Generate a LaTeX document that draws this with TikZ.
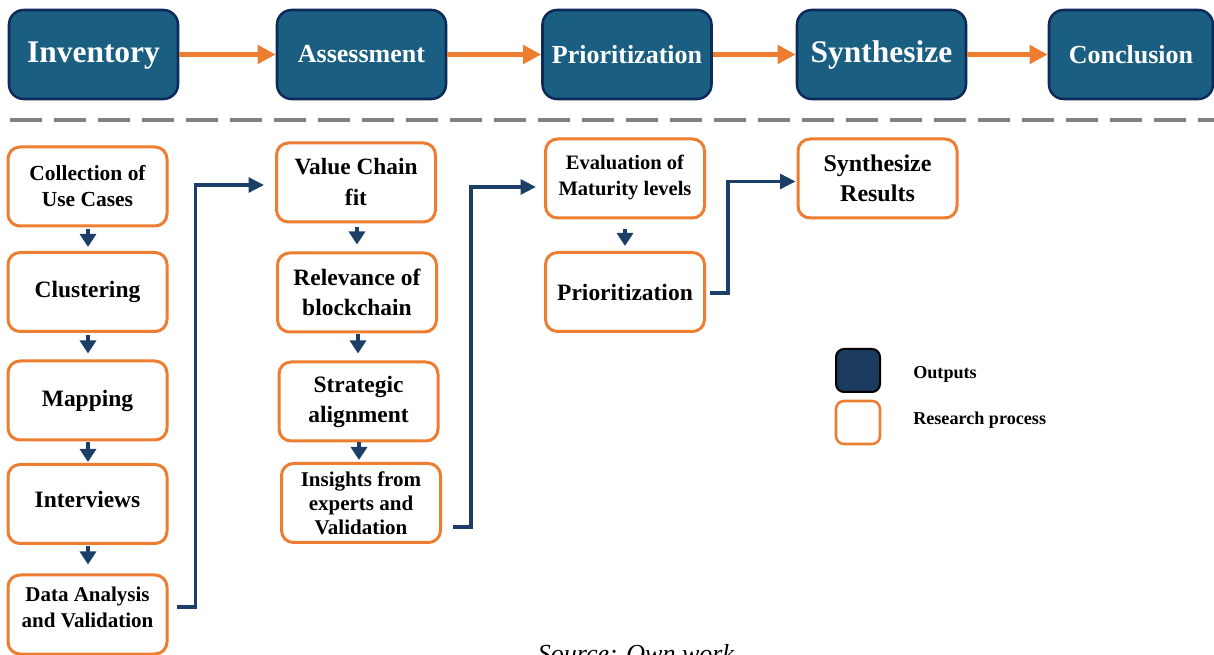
\documentclass[tikz,border=0pt]{standalone}
\usepackage{fontspec}
\setmainfont{Liberation Serif}
\usetikzlibrary{arrows.meta,calc}

\definecolor{stagefill}{HTML}{1A5F82}
\definecolor{stageedge}{HTML}{0E2A5A}
\definecolor{accent}{HTML}{ED7D31}
\definecolor{navyline}{HTML}{1B3F66}
\definecolor{legendnavy}{HTML}{1A3A5E}
\definecolor{divider}{HTML}{7F7F7F}

\begin{document}
\begin{tikzpicture}[x=0.75pt,y=-0.75pt,
  stage/.style={draw=stageedge, line width=1.9pt, fill=stagefill, rounded corners=11pt,
    minimum width=126.75pt, minimum height=66.75pt, inner sep=0pt, text=white,
    font=\bfseries\fontsize{19.5}{23}\selectfont},
  stagebig/.style={stage, font=\bfseries\fontsize{23.6}{28}\selectfont},
  proc/.style={draw=accent, line width=2.25pt, fill=white, rounded corners=9pt,
    minimum width=119.25pt, minimum height=59.25pt, inner sep=0pt, align=center,
    font=\bfseries\fontsize{17.6}{22.5}\selectfont},
  procsmall/.style={proc, font=\bfseries\fontsize{16.1}{19.5}\selectfont},
  toparrow/.style={draw=accent, line width=3.75pt,
    -{Triangle[length=13.5pt,width=13.5pt]}},
  downarrow/.style={draw=navyline, line width=3pt,
    -{Triangle[length=9.75pt,width=12pt]}},
  conn/.style={draw=navyline, line width=2.6pt,
    -{Triangle[length=11.5pt,width=11pt]}},
  dashline/.style={draw=divider, line width=3pt, dash pattern=on 24pt off 9pt},
  legtext/.style={anchor=west, inner sep=0pt, font=\bfseries\fontsize{13.6}{16}\selectfont},
]
\useasboundingbox (0,0) rectangle (1214,655);
\fill[white] (0,0) rectangle (1214,655);
\clip (0,0) rectangle (1214,655);

% ---- stage bar ----
\node[stagebig, text depth=3pt] (inv)  at (93.5,54.5)  {Inventory};
\node[stage]    (ass)  at (361.5,54.5) {Assessment};
\node[stage]    (pri)  at (627,54.5)   {Prioritization};
\node[stagebig] (syn)  at (881.5,54.5) {Synthesize};
\node[stage, minimum width=123pt] (con) at (1131,54.5) {Conclusion};

\draw[toparrow] (inv.east) -- (ass.west);
\draw[toparrow] (ass.east) -- (pri.west);
\draw[toparrow] (pri.east) -- (syn.west);
\draw[toparrow] (syn.east) -- (con.west);

% ---- divider ----
\coordinate (dashL) at (10,120);
\coordinate (dashR) at (1214,120);
\draw[dashline] (dashL) -- (dashR);

% ---- inventory steps ----
\node[procsmall] (coll) at (87.5,186.5) {Collection of\\Use Cases};
\node[proc] (clus) at (87.5,292) {Clustering};
\node[proc] (mapp) at (87.5,400.5) {Mapping};
\node[proc, text depth=7pt] (intv) at (87.5,504) {Interviews};
\node[proc, font=\bfseries\fontsize{15.75}{19.5}\selectfont, text depth=10.5pt]
  (data) at (87.5,614.5) {Data Analysis\\and Validation};

% ---- assessment steps ----
\node[proc, font=\bfseries\fontsize{17.5}{23.25}\selectfont] (vcf) at (356,182.5) {Value Chain\\fit};
\node[proc] (rel) at (357,292.5) {Relevance of\\blockchain};
\node[proc] (strat) at (358.5,401.5) {Strategic\\alignment};
\node[proc, font=\bfseries\fontsize{15.75}{18}\selectfont] (ins) at (361,503) {Insights from\\experts and\\Validation};

% ---- prioritization steps ----
\node[proc, font=\bfseries\fontsize{15.4}{19.5}\selectfont, text depth=5pt] (eval) at (625,178.5) {Evaluation of\\Maturity levels};
\node[proc] (prio) at (625,292) {Prioritization};

% ---- synthesis ----
\node[proc, font=\bfseries\fontsize{18}{22.5}\selectfont] (synr) at (877.5,178.5) {Synthesize\\Results};

% ---- step arrows ----
\draw[downarrow] ($(coll.south)+(0.5,2)$) -- ($(clus.north)+(0.5,-4)$);
\draw[downarrow] ($(clus.south)+(0.5,2)$) -- ($(mapp.north)+(0.5,-6)$);
\draw[downarrow] ($(mapp.south)+(0.5,1)$) -- ($(intv.north)+(0.5,-1)$);
\draw[downarrow] ($(intv.south)+(0.5,1)$) -- ($(data.north)+(0.5,-9)$);

\draw[downarrow] ($(vcf.south)+(1,4)$) -- ($(rel.north)+(0,-7)$);
\draw[downarrow] ($(rel.south)+(1,1)$) -- ($(strat.north)+(-0.5,-7)$);
\draw[downarrow] ($(strat.south)+(0.5,0)$) -- ($(ins.north)+(-2,-2)$);

\draw[downarrow] ($(eval.south)+(0,10)$) -- ($(prio.north)+(0,-5)$);

% ---- links between columns ----
\draw[conn] ($(data.east)+(8,-7.5)$) -- ++(19,0) |- ($(vcf.west)+(-11,2.5)$);
\draw[conn] ($(ins.east)+(11,24)$) -- ++(18,0) |- ($(eval.west)+(-8,8.5)$);
\draw[conn] ($(prio.east)+(4,1)$) -- ++(18,0) |- ($(synr.west)+(-1,3)$);

% ---- legend ----
\node[draw=black, line width=1.5pt, fill=legendnavy, rounded corners=6pt,
  minimum width=33pt, minimum height=32.25pt, inner sep=0pt] (lgout) at (858,370.5) {};
\node[draw=accent, line width=1.9pt, fill=white, rounded corners=6pt,
  minimum width=33pt, minimum height=32.25pt, inner sep=0pt] (lgproc) at (858,422.5) {};
\node[legtext] (lgouttxt) at (913,374) {Outputs};
\node[legtext] (lgproctxt) at (913,420) {Research process};

% ---- source line, running off the lower edge ----
\node[anchor=base, inner sep=0pt, font=\itshape\fontsize{19.5}{23}\selectfont] (src) at (636,662) {Source: Own work};
\end{tikzpicture}
\end{document}
